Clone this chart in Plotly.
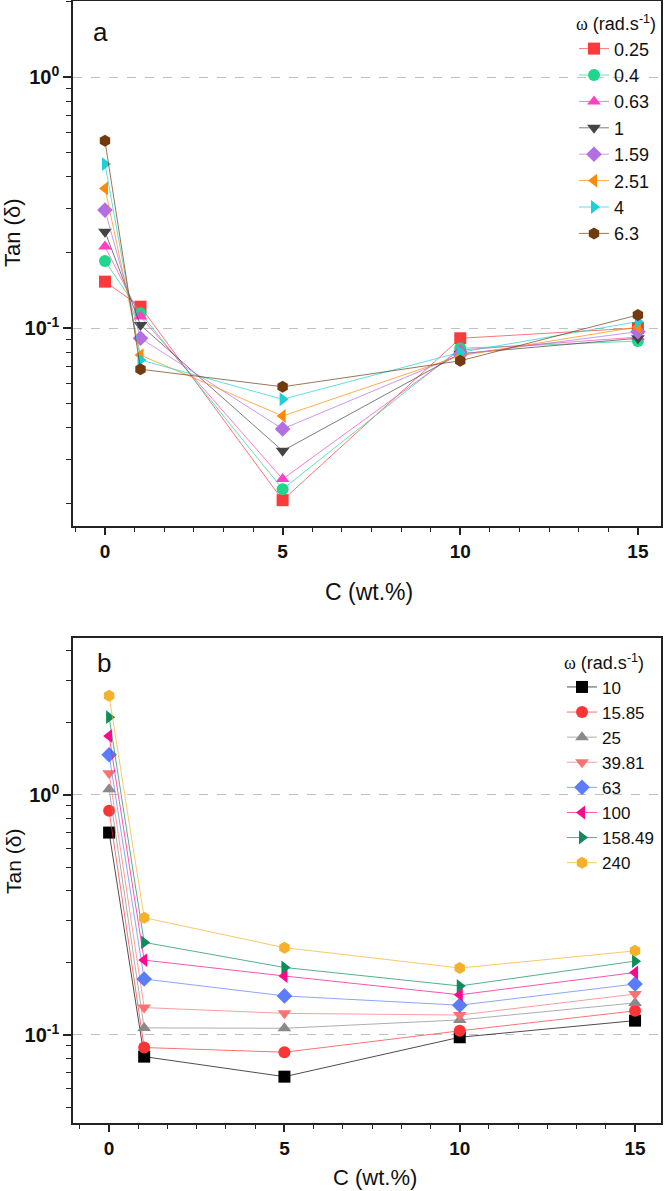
import plotly.graph_objects as go

C = [0, 1, 5, 10, 15]

omega_a = ["0.25", "0.4", "0.63", "1", "1.59", "2.51", "4", "6.3"]
tan_a = [
    [0.153, 0.1216, 0.0206, 0.091, 0.100],
    [0.185, 0.1145, 0.0228, 0.083, 0.0887],
    [0.211, 0.111, 0.0250, 0.0817, 0.092],
    [0.242, 0.1027, 0.0324, 0.079, 0.091],
    [0.295, 0.091, 0.0396, 0.0785, 0.0966],
    [0.360, 0.078, 0.0446, 0.0775, 0.101],
    [0.450, 0.0746, 0.052, 0.080, 0.106],
    [0.557, 0.0685, 0.0583, 0.074, 0.1127],
]
colors_a = ["#fb3b3b", "#1fd68c", "#fb42c0", "#444444", "#b46ee4", "#ff8a05", "#1fcfd8", "#733a0d"]
symbols_a = ["square", "circle", "triangle-up", "triangle-down", "diamond",
             "triangle-left", "triangle-right", "hexagon"]

omega_b = ["10", "15.85", "25", "39.81", "63", "100", "158.49", "240"]
tan_b = [
    [0.697, 0.0812, 0.067, 0.0978, 0.1147],
    [0.860, 0.0886, 0.0847, 0.104, 0.126],
    [1.056, 0.107, 0.1066, 0.1155, 0.136],
    [1.230, 0.130, 0.123, 0.121, 0.148],
    [1.470, 0.171, 0.1454, 0.133, 0.163],
    [1.760, 0.205, 0.176, 0.147, 0.182],
    [2.110, 0.243, 0.191, 0.160, 0.203],
    [2.590, 0.308, 0.231, 0.190, 0.224],
]
colors_b = ["#000000", "#fb3535", "#8a8a8a", "#fc7272", "#5b7dfb", "#fc0a8e", "#0f8c5a", "#f5b12b"]
symbols_b = symbols_a

FONT = "Liberation Sans, Arial, sans-serif"
W, H = 664, 1191
ML, MR = 73, 3
PW = W - ML - MR


def rgba(hexc, a):
    h = hexc.lstrip("#")
    r, g, b = int(h[0:2], 16), int(h[2:4], 16), int(h[4:6], 16)
    return f"rgba({r},{g},{b},{a})"


fig = go.Figure()
for name, vals, col, sym in zip(omega_a, tan_a, colors_a, symbols_a):
    fig.add_trace(go.Scatter(
        x=C, y=vals, name=name, mode="lines+markers",
        line=dict(color=rgba(col, 0.7), width=1),
        marker=dict(color=col, symbol=sym, size=12, line=dict(width=0)),
        xaxis="x", yaxis="y", legend="legend"))
for name, vals, col, sym in zip(omega_b, tan_b, colors_b, symbols_b):
    fig.add_trace(go.Scatter(
        x=C, y=vals, name=name, mode="lines+markers",
        line=dict(color=rgba(col, 0.7), width=1),
        marker=dict(color=col, symbol=sym, size=12, line=dict(width=0)),
        xaxis="x2", yaxis="y2", legend="legend2"))

def ydom(top_px, bot_px):
    return [1 - bot_px / H, 1 - top_px / H]

xtick_vals = [0, 5, 10, 15]
xtick_text = [f"<b>{v}</b>" for v in xtick_vals]
xaxis_common = dict(
    tickmode="array", tickvals=xtick_vals, ticktext=xtick_text,
    ticks="outside", ticklen=7, tickwidth=1.5, tickcolor="#222",
    showline=True, linecolor="#222", linewidth=1.5, mirror=True,
    showgrid=False, zeroline=False,
    tickfont=dict(family=FONT, size=19, color="#111"),
    minor=dict(ticks="outside", ticklen=4, tickwidth=1.2, tickcolor="#222",
               tick0=0, dtick=5 / 6, showgrid=False),
)
ytick_vals = [0.1, 1]
ytick_text = ["<b>10<sup>-1</sup></b>", "<b>10<sup>0</sup></b>"]
yminor = [m * 10 ** e for e in (-2, -1, 0) for m in range(2, 10)]
yaxis_common = dict(
    type="log", tickmode="array", tickvals=ytick_vals, ticktext=ytick_text,
    ticks="outside", ticklen=8, tickwidth=1.5, tickcolor="#222",
    showline=True, linecolor="#222", linewidth=1.5, mirror=True,
    showgrid=True, gridcolor="#c0c0c0", griddash="dash", gridwidth=1,
    zeroline=False,
    tickfont=dict(family=FONT, size=20, color="#111"),
    minor=dict(ticks="outside", ticklen=5, tickwidth=1.2, tickcolor="#222",
               tickmode="array", tickvals=yminor, showgrid=False),
)

def px_x(px):
    return (px - ML) / PW

def px_y(px):
    return 1 - px / H

LEG_TITLE = "<span style='font-family:Liberation Serif'>ω</span> (rad.s<sup>-1</sup>)"

fig.update_layout(
    width=W, height=H, paper_bgcolor="white", plot_bgcolor="white",
    margin=dict(l=ML, r=MR, t=0, b=0, autoexpand=False),
    font=dict(family=FONT, color="#111"),
    xaxis=dict(domain=[0, 1], range=[-0.9, 15.65], anchor="y", **xaxis_common),
    yaxis=dict(domain=ydom(1, 526), range=[-1.789, 0.303], anchor="x", **yaxis_common),
    xaxis2=dict(domain=[0, 1], range=[-1.03, 15.74], anchor="y2", **xaxis_common),
    yaxis2=dict(domain=ydom(638, 1123), range=[-1.367, 0.654], anchor="x2", **yaxis_common),
    legend=dict(
        x=px_x(574), xanchor="left", y=px_y(7), yanchor="top",
        bgcolor="rgba(0,0,0,0)", font=dict(family=FONT, size=18, color="#111"),
        title=dict(text=LEG_TITLE, font=dict(family=FONT, size=18, color="#111"), side="top"),
        tracegroupgap=0),
    legend2=dict(
        x=px_x(562), xanchor="left", y=px_y(646), yanchor="top",
        bgcolor="rgba(0,0,0,0)", font=dict(family=FONT, size=17, color="#111"),
        title=dict(text=LEG_TITLE, font=dict(family=FONT, size=18, color="#111"), side="top"),
        tracegroupgap=0),
    showlegend=True,
)

annos = [
    dict(text="a", x=px_x(100), y=px_y(32), size=26),
    dict(text="b", x=px_x(104), y=px_y(663), size=26),
    dict(text="Tan (δ)", x=px_x(13), y=px_y(233), textangle=-90, size=22),
    dict(text="Tan (δ)", x=px_x(13), y=px_y(862), textangle=-90, size=21),
    dict(text="C (wt.%)", x=px_x(369), y=px_y(592), size=23),
    dict(text="C (wt.%)", x=px_x(375), y=px_y(1177), size=22),
]
for a in annos:
    size = a.pop("size")
    fig.add_annotation(xref="paper", yref="paper", showarrow=False,
                       xanchor="center", yanchor="middle",
                       font=dict(family=FONT, color="#111", size=size), **a)

fig.write_html("out.html")
